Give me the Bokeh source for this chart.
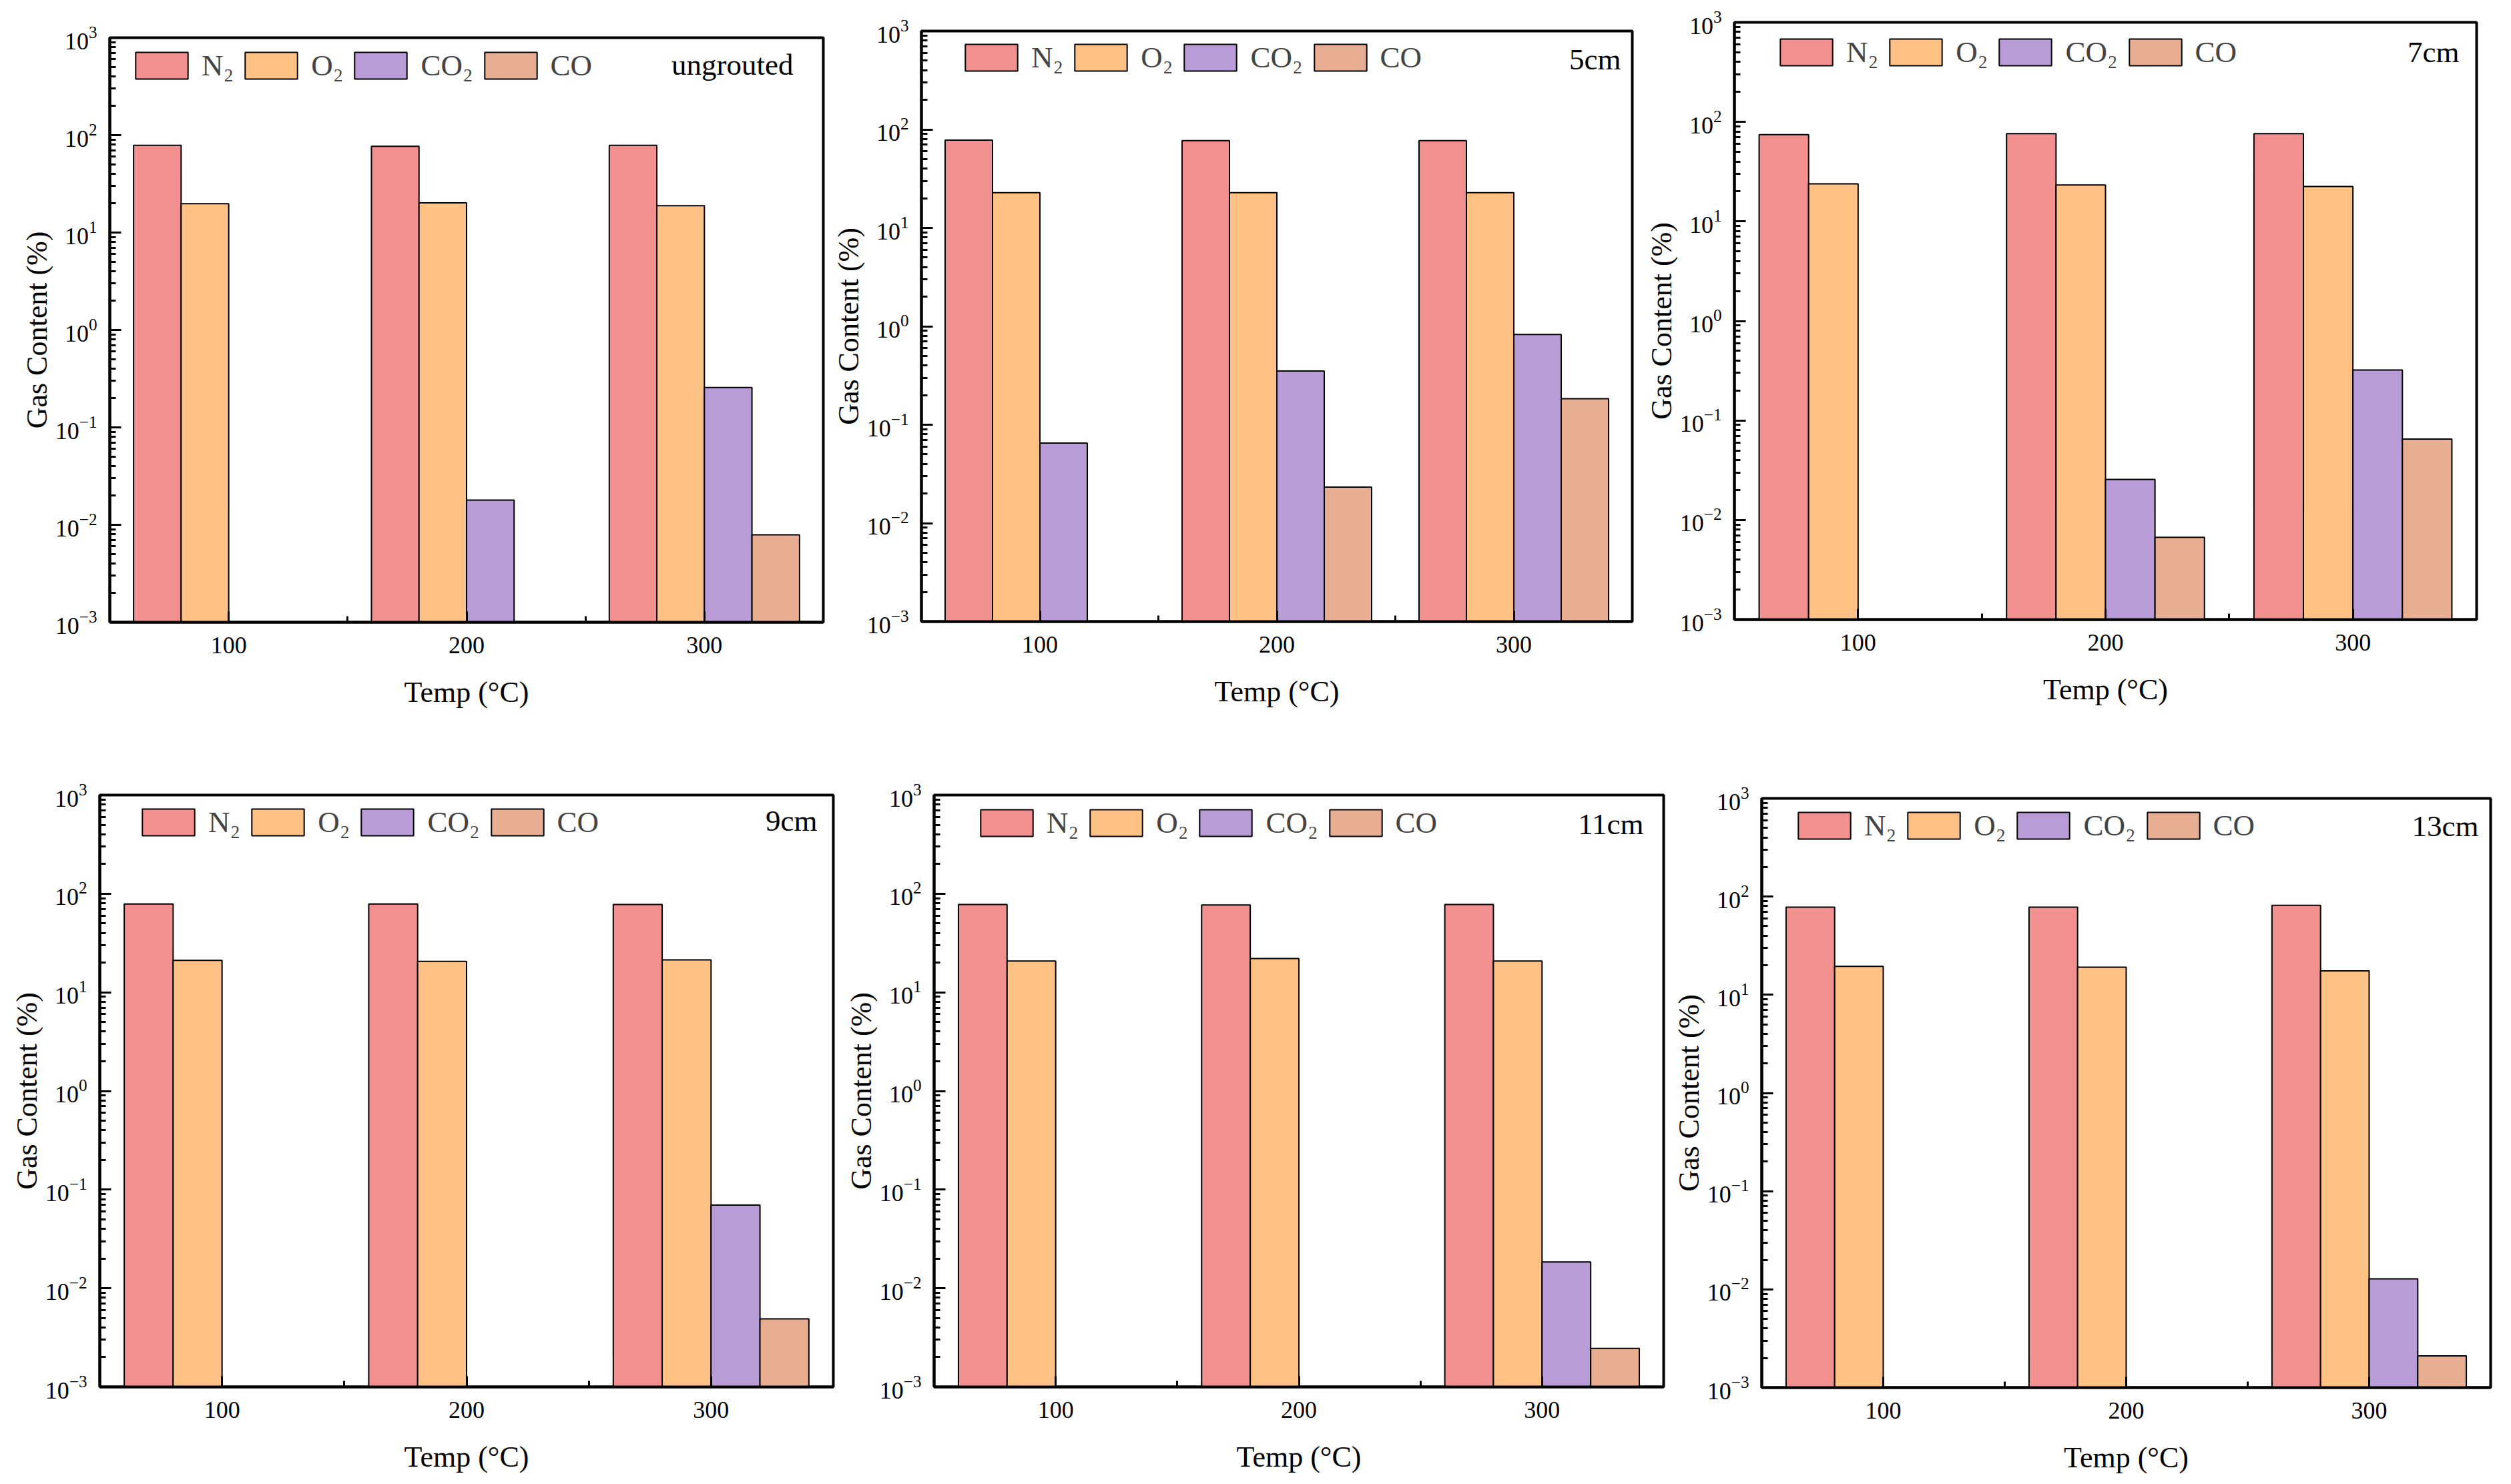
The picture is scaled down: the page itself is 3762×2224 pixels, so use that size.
from bokeh.plotting import figure
from bokeh.layouts import column, row
from bokeh.models import FixedTicker, Label, Legend, LegendItem, Range1d
from bokeh.embed import file_html
from bokeh.resources import INLINE

# ---------------- data ----------------
temps = [100, 200, 300]
gases = ["N\u2082", "O\u2082", "CO\u2082", "CO"]
panel_names = ["ungrouted", "5cm", "7cm", "9cm", "11cm", "13cm"]

ungrouted_N2 = [78.7, 76.9, 78.7]
ungrouted_O2 = [19.8, 20.2, 18.9]
ungrouted_CO2 = [None, 0.0179, 0.257]
ungrouted_CO = [None, None, 0.0079]

cm5_N2 = [77.9, 77.0, 77.0]
cm5_O2 = [22.8, 22.8, 22.8]
cm5_CO2 = [0.065, 0.352, 0.826]
cm5_CO = [None, 0.0232, 0.184]

cm7_N2 = [74.5, 76.2, 76.2]
cm7_O2 = [23.9, 23.2, 22.4]
cm7_CO2 = [None, 0.0256, 0.322]
cm7_CO = [None, 0.0067, 0.065]

cm9_N2 = [78.6, 78.6, 77.7]
cm9_O2 = [21.1, 20.6, 21.3]
cm9_CO2 = [None, None, 0.0697]
cm9_CO = [None, None, 0.0049]

cm11_N2 = [77.7, 76.9, 77.7]
cm11_O2 = [20.8, 22.0, 20.8]
cm11_CO2 = [None, None, 0.0185]
cm11_CO = [None, None, 0.00246]

cm13_N2 = [78.1, 78.1, 81.6]
cm13_O2 = [19.5, 19.1, 17.5]
cm13_CO2 = [None, None, 0.0128]
cm13_CO = [None, None, 0.0021]

panel_series = [
    [ungrouted_N2, ungrouted_O2, ungrouted_CO2, ungrouted_CO],
    [cm5_N2, cm5_O2, cm5_CO2, cm5_CO],
    [cm7_N2, cm7_O2, cm7_CO2, cm7_CO],
    [cm9_N2, cm9_O2, cm9_CO2, cm9_CO],
    [cm11_N2, cm11_O2, cm11_CO2, cm11_CO],
    [cm13_N2, cm13_O2, cm13_CO2, cm13_CO],
]

y_exponents = [-3, -2, -1, 0, 1, 2, 3]

# ---------------- style ----------------
colors = ["#F28F8F", "#FFC184", "#B89BD7", "#E8AE91"]
FONT = "Liberation Serif"
BAR_W = 20
X_START, X_END = 50, 350

# geometry in page pixels: fig box, frame box, legend offset, title offset
geoms = [
    dict(fig=(0, 1242, 0, 1120), frame=(164, 1233, 56, 932), leg=(29, 16), tit=(45, 40)),
    dict(fig=(1242, 2458, 0, 1120), frame=(1380, 2445, 46, 931), leg=(56, 14), tit=(17, 42)),
    dict(fig=(2458, 3750, 0, 1120), frame=(2598, 3710, 33, 928), leg=(59, 19), tit=(26, 44)),
    dict(fig=(0, 1258, 1120, 2220), frame=(149, 1248, 1191, 2078), leg=(54, 15), tit=(24, 38)),
    dict(fig=(1258, 2500, 1120, 2220), frame=(1399, 2492, 1191, 2078), leg=(60, 16), tit=(30, 43)),
    dict(fig=(2500, 3750, 1120, 2220), frame=(2639, 3731, 1196, 2079), leg=(45, 15), tit=(18, 41)),
]

GLYPH_H = 50
LEG_H = 52


def make_panel(name, series, g):
    fl, fr, ft, fb = g["fig"]
    xl, xr, yt, yb = g["frame"]
    W, H = fr - fl, fb - ft
    frame_h = yb - yt
    p = figure(width=W, height=H, x_range=Range1d(X_START, X_END),
               y_range=Range1d(10.0 ** y_exponents[0], 10.0 ** y_exponents[-1]),
               y_axis_type="log", output_backend="svg", toolbar_location=None,
               min_border_left=xl - fl, min_border_right=fr - xr,
               min_border_top=yt - ft, min_border_bottom=fb - yb)
    p.xgrid.visible = False
    p.ygrid.visible = False
    p.outline_line_color = "black"
    p.outline_line_width = 4
    p.background_fill_color = "white"
    p.border_fill_color = "white"

    items = []
    for i, (gas, vals, col) in enumerate(zip(gases, series, colors)):
        off = (i - 1.5) * BAR_W
        xs = [t + off for t, v in zip(temps, vals) if v is not None]
        tops = [v for v in vals if v is not None]
        r = p.vbar(x=xs, top=tops, bottom=10.0 ** y_exponents[0], width=BAR_W,
                   fill_color=col, line_color="black", line_width=2)
        items.append(LegendItem(label=gas, renderers=[r]))

    lx, ly = g["leg"]
    legend = Legend(items=items, orientation="horizontal",
                    location=(lx, frame_h - ly - LEG_H),
                    glyph_width=98, glyph_height=GLYPH_H, label_standoff=11, spacing=7,
                    padding=0, margin=0, border_line_color=None, background_fill_alpha=0,
                    label_text_font=FONT, label_text_font_size="45px")
    p.add_layout(legend)

    tx, ty = g["tit"]
    p.add_layout(Label(x=X_END, y=10.0 ** y_exponents[-1], x_offset=-tx, y_offset=-ty,
                       text=name, text_align="right", text_baseline="middle",
                       text_font=FONT, text_font_size="45px", text_color="black"))

    mids = [(a + b) / 2 for a, b in zip(temps, temps[1:])]
    xa = p.xaxis[0]
    xa.ticker = FixedTicker(ticks=temps, minor_ticks=mids)
    xa.axis_label = "Temp (\u00b0C)"
    ya = p.yaxis[0]
    ya.ticker = FixedTicker(ticks=[10.0 ** e for e in y_exponents],
                            minor_ticks=[m * 10.0 ** e for e in y_exponents[:-1] for m in range(2, 10)])
    ya.axis_label = "Gas Content (%)"
    for ax in (xa, ya):
        ax.axis_line_width = 4
        ax.axis_line_color = "black"
        ax.major_tick_out = 0
        ax.minor_tick_out = 0
        ax.major_tick_line_width = 3
        ax.minor_tick_line_width = 3
        ax.major_tick_line_color = "black"
        ax.minor_tick_line_color = "black"
        ax.major_label_text_font = FONT
        ax.major_label_text_font_size = "36px"
        ax.major_label_text_color = "black"
        ax.axis_label_text_font = FONT
        ax.axis_label_text_font_size = "44px"
        ax.axis_label_text_font_style = "normal"
        ax.axis_label_text_color = "black"
    xa.major_tick_in = 16
    xa.minor_tick_in = 9
    xa.major_label_standoff = 22
    xa.axis_label_standoff = 31
    ya.major_tick_in = 17
    ya.minor_tick_in = 9
    ya.major_label_standoff = 19
    ya.axis_label_standoff = 0
    return p


figs = [make_panel(n, s, g) for n, s, g in zip(panel_names, panel_series, geoms)]
# each plot in its own column so a row does not align the frames of its plots
cells = [column(f, spacing=0) for f in figs]
layout = column(row(*cells[:3], spacing=0), row(*cells[3:], spacing=0), spacing=0)

open("out.html", "w").write(file_html(layout, INLINE))
